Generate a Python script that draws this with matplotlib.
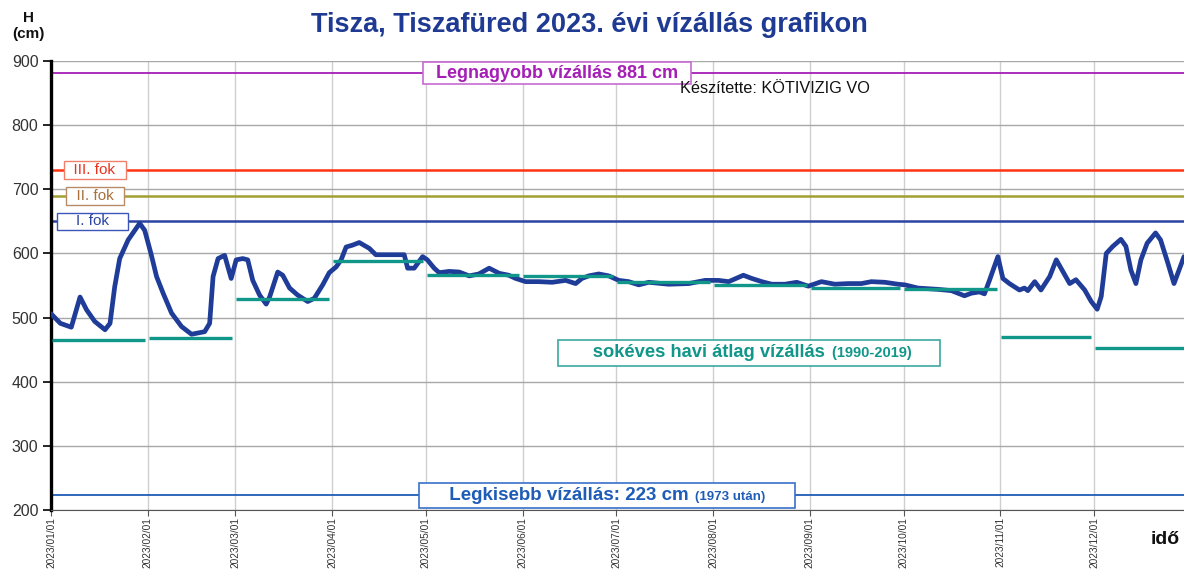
#!/usr/bin/env python3
"""Tisza, Tiszafüred 2023 water level chart with monthly long-term means."""

from datetime import datetime, timedelta

import matplotlib

matplotlib.use("Agg")
import matplotlib.dates as mdates
import matplotlib.pyplot as plt
from matplotlib.offsetbox import AnnotationBbox, HPacker, TextArea

YEAR_START = datetime(2023, 1, 1)

# daily water level (day offset from Jan 1, cm)
level_day = [
    0, 3, 6.5, 9.3, 11.4, 14, 17.3, 18.9, 20.4, 22, 24.7, 28.4, 30, 32, 33.8,
    35.9, 38.6, 41.8, 45, 49.2, 50.8, 51.9, 53.5, 55.6, 57.7, 59.3, 61.4, 63,
    64.6, 66.8, 68.9, 70, 72.6, 74.2, 76.4, 79, 82.2, 84.3, 87, 89.1, 91.3,
    92.9, 94.5, 96.6, 98.7, 101.9, 104, 113.1, 114.2, 116.3, 119, 120.5,
    122.7, 124.3, 127.5, 130.7, 133.9, 137, 140.3, 143.5, 146.6, 148.8, 152,
    156.2, 160.5, 164.8, 168, 170, 172.2, 175.4, 178.6, 181.8, 185, 188.2,
    191.4, 197.8, 204.2, 209.5, 213.7, 217, 221.7, 224.4, 227.6, 230.8, 235,
    238.8, 242.5, 246.7, 251, 255.3, 259.5, 262.7, 267, 271.2, 273.4, 277.6,
    284, 288.3, 292.5, 294.7, 297.3, 298.9, 300.5, 303.2, 304.8, 306.9,
    310.1, 311.7, 312.8, 315, 317, 319.8, 321.9, 324, 326.2, 328.2, 331,
    333.1, 335, 336.3, 337.9, 340, 342.6, 344.2, 345.8, 347.4, 349, 351,
    353.7, 355.3, 357.5, 359.6, 362.8,
]
level_cm = [
    506, 491, 485, 532, 512, 494, 481, 491, 548, 592, 621, 647, 636, 600, 564,
    538, 507, 486, 474, 478, 491, 564, 592, 597, 561, 590, 592, 590,
    558, 535, 521, 532, 571, 566, 546, 535, 525, 530, 551, 570, 579,
    590, 610, 613, 617, 608, 598, 598, 577, 577, 595, 590,
    577, 570, 572, 571, 565, 568, 577, 569, 566, 561, 556,
    556, 555, 558, 553, 561, 565, 568, 565, 558, 556, 551,
    555, 552, 553, 558, 558, 556, 566, 561, 556, 552, 552,
    555, 549, 556, 552, 553, 553, 556, 555, 552, 551, 546,
    544, 542, 534, 538, 540, 537, 558, 595, 561, 553,
    543, 546, 542, 556, 543, 564, 590, 572, 553, 559, 543,
    525, 513, 533, 600, 611, 622, 611, 574, 553, 590, 616,
    632, 621, 587, 553, 595,
]

# long-term (1990-2019) monthly mean water level, cm
month_mean_cm = [465, 468, 529, 588, 566, 565, 556, 551, 546, 544, 470, 453]

# reference levels
max_level = 881
min_level = 223
alert_levels = [730, 690, 650]
alert_labels = ["III. fok", "II. fok", "I. fok"]

LINE_BLUE = "#1F3C98"
TEAL = "#11968A"
ALERT_LINE = ["#FF3311", "#A3A032", "#2A44A3"]
ALERT_TEXT = ["#E8321E", "#A8703C", "#2A44A3"]
ALERT_EDGE = ["#F0806A", "#B88A66", "#3A56B8"]
MAX_COLOR = "#A51EB6"
MIN_COLOR = "#1F5CB8"

plt.rcParams["font.family"] = ["Liberation Sans", "DejaVu Sans"]
NARROW = ["Liberation Sans Narrow", "Liberation Sans", "DejaVu Sans"]


def day(offset: float) -> datetime:
    return YEAR_START + timedelta(days=offset)


fig = plt.figure(figsize=(11.84, 5.70), dpi=100)
ax = fig.add_axes([51 / 1184, 1 - 510 / 570, 1 - 51 / 1184, (510 - 61) / 570])

x_end = day(362.8)
ax.set_xlim(YEAR_START, x_end)
ax.set_ylim(200, 900)
ax.set_yticks(range(200, 901, 100))

month_starts = [datetime(2023, m, 1) for m in range(1, 13)]
ax.set_xticks(month_starts)
ax.xaxis.set_major_formatter(mdates.DateFormatter("%Y/%m/%d"))
ax.tick_params(axis="x", labelrotation=90, labelsize=7.3, length=4, color="#555555",
               labelcolor="#333333", pad=1)
ax.tick_params(axis="y", labelsize=11.5, length=6, width=1.2, labelcolor="#333333", pad=3)

ax.grid(axis="y", color="#A8A8A8", linewidth=1.0)
ax.grid(axis="x", color="#CFCFCF", linewidth=1.0)
ax.set_axisbelow(True)
for side in ("top", "right"):
    ax.spines[side].set_visible(False)
ax.spines["left"].set_linewidth(2.4)
ax.spines["left"].set_color("black")
ax.spines["bottom"].set_color("#555555")

# reference lines
ax.axhline(max_level, color=MAX_COLOR, linewidth=1.3, zorder=2)
ax.axhline(min_level, color=MIN_COLOR, linewidth=1.3, zorder=2)
for lvl, col in zip(alert_levels, ALERT_LINE):
    ax.axhline(lvl, color=col, linewidth=1.8, zorder=2)

# monthly long-term means
month_ends = month_starts[1:] + [datetime(2024, 1, 1)]
for start, end, mean in zip(month_starts, month_ends, month_mean_cm):
    ax.hlines(mean, start + timedelta(days=0.3), end - timedelta(days=1.0),
              color=TEAL, linewidth=2.4, zorder=4)

# observed water level
ax.plot([day(d) for d in level_day], level_cm, color=LINE_BLUE, linewidth=3.4,
        solid_joinstyle="round", solid_capstyle="round", zorder=3)

# labels on alert lines
alert_x = [day(14), day(14), day(13.3)]
alert_txt = ["  III. fok  ", "  II. fok  ", "    I. fok    "]
for lvl, txt, x, tc, ec in zip(alert_levels, alert_txt, alert_x, ALERT_TEXT, ALERT_EDGE):
    ax.text(x, lvl, txt, color=tc, fontsize=11, ha="center", va="center", zorder=6,
            bbox=dict(boxstyle="square,pad=0.12", fc="white", ec=ec, lw=1.0))

ax.text(day(162), max_level, "  Legnagyobb vízállás 881 cm  ", color=MAX_COLOR,
        fontsize=13, fontweight="bold", ha="center", va="center", zorder=6,
        bbox=dict(boxstyle="square,pad=0.15", fc="white", ec="#C86AD2", lw=1.2))

ax.text(day(201.4), 857, "Készítette: KÖTIVIZIG VO", color="#111111", fontsize=11.7,
        ha="left", va="center", zorder=6)


def boxed_label(x, y, big, small, color, edge, big_size, small_size, family, sep):
    parts = HPacker(
        children=[
            TextArea(big, textprops=dict(color=color, fontsize=big_size, fontweight="bold",
                                         family=family)),
            TextArea(small, textprops=dict(color=color, fontsize=small_size,
                                           fontweight="bold", family=family)),
        ],
        align="baseline", pad=0, sep=sep,
    )
    box = AnnotationBbox(parts, (x, y), xycoords="data", frameon=True, pad=0.25,
                         bboxprops=dict(boxstyle="square", fc="white", ec=edge, lw=1.2),
                         zorder=6)
    ax.add_artist(box)


boxed_label(day(178), min_level, "     Legkisebb vízállás: 223 cm", "(1973 után)       ",
            MIN_COLOR, "#3A70C8", 13.5, 9.5, NARROW, 5)
boxed_label(day(223.5), 445, "      sokéves havi átlag vízállás", "(1990-2019)      ",
            TEAL, "#3AA8A0", 13.2, 10.5, ["Liberation Sans", "DejaVu Sans"], 5)

# titles and axis captions
fig.text(0.498, 0.957, "Tisza, Tiszafüred 2023. évi vízállás grafikon", color="#1F3A93",
         fontsize=19.5, fontweight="bold", ha="center", va="center")
fig.text(0.024, 0.955, "H\n(cm)", fontsize=11, fontweight="bold", ha="center", va="center",
         linespacing=1.2, color="#111111")
fig.text(0.984, 0.053, "idő", fontsize=14, fontweight="bold", ha="center", va="center",
         color="#111111")

fig.savefig("out.png", dpi=100, facecolor="white")
